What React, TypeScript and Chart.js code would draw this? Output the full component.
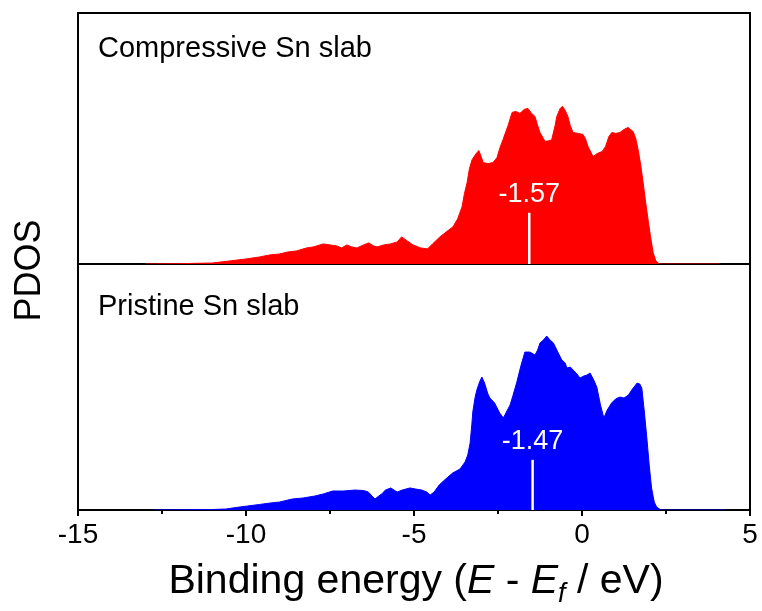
import { useEffect, useRef } from 'react';
import { Chart, registerables } from 'chart.js';

Chart.register(...registerables);

const FONT = "'Liberation Sans', Arial, Helvetica, sans-serif";

// Compressive Sn slab: energy (eV, relative to E_f) and PDOS (arb. units)
const compressiveEnergy = [
  -13.0, -12.0, -11.0, -10.5, -10.0, -9.6, -9.3, -9.0, -8.75, -8.5, -8.2, -8.0, -7.7, -7.5, -7.3, -7.15,
  -7.0, -6.85, -6.7, -6.5, -6.35, -6.2, -6.1, -5.9, -5.7, -5.5, -5.37, -5.2, -5.03, -4.8, -4.6, -4.45,
  -4.23, -4.0, -3.84, -3.7, -3.57, -3.5, -3.42, -3.35, -3.27, -3.15, -3.07, -2.98, -2.94, -2.8, -2.65, -2.53,
  -2.45, -2.35, -2.2, -2.08, -1.97, -1.85, -1.72, -1.61, -1.5, -1.4, -1.32, -1.25, -1.1, -0.95, -0.9, -0.8,
  -0.75, -0.65, -0.58, -0.5, -0.42, -0.35, -0.27, -0.1, 0.03, 0.1, 0.18, 0.33, 0.45, 0.6, 0.7, 0.8,
  0.89, 1.0, 1.13, 1.25, 1.37, 1.52, 1.6, 1.67, 1.75, 1.82, 1.9, 1.98, 2.05, 2.12, 2.2, 2.3, 4.1,
];
const compressivePdos = [
  0, 0.003, 0.01, 0.03, 0.05, 0.07, 0.09, 0.1, 0.12, 0.13, 0.16, 0.17, 0.2, 0.19, 0.18, 0.16,
  0.19, 0.17, 0.16, 0.19, 0.21, 0.18, 0.17, 0.19, 0.2, 0.22, 0.27, 0.23, 0.19, 0.16, 0.15, 0.2,
  0.27, 0.33, 0.37, 0.45, 0.57, 0.7, 0.81, 0.95, 1.04, 1.1, 1.13, 1.05, 1.01, 1.0, 1.01, 1.06,
  1.15, 1.24, 1.38, 1.51, 1.52, 1.5, 1.54, 1.55, 1.5, 1.47, 1.38, 1.31, 1.22, 1.23, 1.24, 1.38,
  1.47, 1.55, 1.57, 1.53, 1.47, 1.38, 1.31, 1.3, 1.29, 1.25, 1.17, 1.07, 1.1, 1.12, 1.17, 1.27,
  1.31, 1.3, 1.31, 1.34, 1.36, 1.32, 1.25, 1.14, 0.98, 0.81, 0.6, 0.41, 0.25, 0.11, 0.03, 0, 0,
];

// Pristine Sn slab
const pristineEnergy = [
  -12.75, -11.0, -10.6, -10.3, -9.95, -9.6, -9.28, -9.0, -8.62, -8.3, -7.95, -7.7, -7.42, -7.1, -6.75, -6.5,
  -6.36, -6.25, -6.16, -6.05, -5.96, -5.85, -5.69, -5.55, -5.49, -5.35, -5.12, -4.95, -4.77, -4.62, -4.52, -4.4,
  -4.25, -4.09, -3.85, -3.63, -3.48, -3.4, -3.33, -3.28, -3.25, -3.18, -3.13, -3.05, -2.98, -2.9, -2.8, -2.74,
  -2.6, -2.54, -2.45, -2.34, -2.25, -2.14, -2.05, -1.94, -1.82, -1.7, -1.55, -1.4, -1.32, -1.25, -1.15, -1.05,
  -0.95, -0.85, -0.72, -0.6, -0.5, -0.45, -0.35, -0.26, -0.15, -0.06, 0.05, 0.15, 0.24, 0.35, 0.44, 0.55,
  0.65, 0.75, 0.88, 1.0, 1.13, 1.25, 1.38, 1.5, 1.64, 1.72, 1.78, 1.85, 1.93, 2.0, 2.07, 2.15, 2.22, 2.35, 4.28,
];
const pristinePdos = [
  0, 0.005, 0.01, 0.025, 0.041, 0.056, 0.071, 0.081, 0.112, 0.122, 0.142, 0.163, 0.193, 0.193, 0.203, 0.198,
  0.183, 0.142, 0.112, 0.142, 0.163, 0.203, 0.224, 0.193, 0.183, 0.203, 0.224, 0.213, 0.203, 0.183, 0.152, 0.183,
  0.254, 0.305, 0.376, 0.417, 0.488, 0.559, 0.681, 0.864, 0.996, 1.148, 1.219, 1.3, 1.351, 1.29, 1.179, 1.138,
  1.087, 1.046, 0.986, 0.935, 0.996, 1.067, 1.168, 1.3, 1.463, 1.605, 1.605, 1.575, 1.626, 1.697, 1.727, 1.768,
  1.727, 1.697, 1.605, 1.524, 1.494, 1.443, 1.453, 1.422, 1.382, 1.341, 1.361, 1.372, 1.392, 1.321, 1.25, 1.067,
  0.935, 1.016, 1.087, 1.128, 1.148, 1.138, 1.168, 1.229, 1.29, 1.28, 1.24, 1.016, 0.732, 0.457, 0.224, 0.081, 0.03, 0, 0,
];

const panelLabels = ['Compressive Sn slab', 'Pristine Sn slab'];
const seriesColors = ['#ff0000', '#0000ff'];
// d-band centre of each slab (eV) and the height of its marker (PDOS units)
const dBandCenters = [-1.57, -1.47];
const markerHeight = 0.51;

const xTicks = [-15, -10, -5, 0, 5];
const xMinorTicks = [-12.5, -7.5, -2.5, 2.5];
const panelScaleIds = ['yTop', 'yBot'];

const toPoints = (xs: number[], ys: number[]) => xs.map((x, i) => ({ x, y: ys[i] }));

const decorPlugin = {
  id: 'pdosDecor',
  beforeDatasetsDraw(chart: any) {
    const { ctx, chartArea: a, scales } = chart;
    ctx.save();
    ctx.strokeStyle = '#000';
    ctx.lineWidth = 2;
    ctx.strokeRect(a.left, a.top, a.right - a.left, a.bottom - a.top);
    const yDiv = scales.yTop.bottom;
    ctx.beginPath();
    ctx.moveTo(a.left, yDiv);
    ctx.lineTo(a.right, yDiv);
    ctx.stroke();
    // tick marks below the energy axis
    const xs = scales.x;
    xTicks.forEach((v) => {
      const px = xs.getPixelForValue(v);
      ctx.beginPath();
      ctx.moveTo(px, a.bottom);
      ctx.lineTo(px, a.bottom + 6);
      ctx.stroke();
    });
    xMinorTicks.forEach((v) => {
      const px = xs.getPixelForValue(v);
      ctx.beginPath();
      ctx.moveTo(px, a.bottom);
      ctx.lineTo(px, a.bottom + 4);
      ctx.stroke();
    });
    ctx.restore();
  },
  afterDatasetsDraw(chart: any) {
    const { ctx, chartArea: a, scales } = chart;
    const xs = scales.x;
    ctx.save();
    const labelOffsets = [44, 51];
    panelScaleIds.forEach((id, i) => {
      const ys = scales[id];
      const px = xs.getPixelForValue(dBandCenters[i]);
      const y0 = ys.getPixelForValue(0);
      const y1 = ys.getPixelForValue(markerHeight);
      ctx.strokeStyle = '#ffffff';
      ctx.lineWidth = 2.5;
      ctx.beginPath();
      ctx.moveTo(px, y0);
      ctx.lineTo(px, y1);
      ctx.stroke();
      ctx.fillStyle = '#ffffff';
      ctx.font = `27px ${FONT}`;
      ctx.textAlign = 'center';
      ctx.textBaseline = 'alphabetic';
      ctx.fillText(dBandCenters[i].toFixed(2), px, y1 - 11);

      ctx.fillStyle = '#000000';
      ctx.font = `29px ${FONT}`;
      ctx.textAlign = 'left';
      ctx.fillText(panelLabels[i], a.left + 20, ys.top + labelOffsets[i]);
    });

    // vertical axis title
    ctx.save();
    ctx.translate(30, (a.top + a.bottom) / 2 + 9);
    ctx.rotate(-Math.PI / 2);
    ctx.fillStyle = '#000';
    ctx.font = `36px ${FONT}`;
    ctx.textAlign = 'center';
    ctx.textBaseline = 'middle';
    ctx.fillText('PDOS', 0, 0);
    ctx.restore();

    // horizontal axis title: Binding energy (E - E_f / eV)
    const size = 41;
    const parts = [
      { t: 'Binding energy (', f: `${size}px ${FONT}`, dy: 0 },
      { t: 'E', f: `italic ${size}px ${FONT}`, dy: 0 },
      { t: ' - ', f: `${size}px ${FONT}`, dy: 0 },
      { t: 'E', f: `italic ${size}px ${FONT}`, dy: 0 },
      { t: 'f', f: `italic ${Math.round(size * 0.66)}px ${FONT}`, dy: 9 },
      { t: ' / eV)', f: `${size}px ${FONT}`, dy: 0 },
    ];
    let total = 0;
    const widths = parts.map((p) => {
      ctx.font = p.f;
      const w = ctx.measureText(p.t).width;
      total += w;
      return w;
    });
    let cx = (a.left + a.right) / 2 + 2 - total / 2;
    const base = 593;
    ctx.fillStyle = '#000';
    ctx.textAlign = 'left';
    ctx.textBaseline = 'alphabetic';
    parts.forEach((p, i) => {
      ctx.font = p.f;
      ctx.fillText(p.t, cx, base + p.dy);
      cx += widths[i];
    });
    ctx.restore();
  },
};

export default function App() {
  const canvasRef = useRef<HTMLCanvasElement | null>(null);

  useEffect(() => {
    document.body.style.margin = '0';
    document.body.style.overflow = 'hidden';
    const canvas = canvasRef.current;
    if (!canvas) return;
    const chart = new Chart(canvas, {
      type: 'line',
      data: {
        datasets: [
          {
            label: panelLabels[0],
            data: toPoints(compressiveEnergy, compressivePdos),
            yAxisID: 'yTop',
            borderColor: seriesColors[0],
            backgroundColor: seriesColors[0],
            borderWidth: 1,
            pointRadius: 0,
            fill: 'origin',
            tension: 0,
          },
          {
            label: panelLabels[1],
            data: toPoints(pristineEnergy, pristinePdos),
            yAxisID: 'yBot',
            borderColor: seriesColors[1],
            backgroundColor: seriesColors[1],
            borderWidth: 1,
            pointRadius: 0,
            fill: 'origin',
            tension: 0,
          },
        ],
      },
      options: {
        responsive: false,
        animation: false,
        events: [],
        layout: { padding: { top: 13, left: 78, right: 12, bottom: 0 } },
        plugins: { legend: { display: false }, tooltip: { enabled: false } },
        scales: {
          x: {
            type: 'linear',
            min: -15,
            max: 5,
            afterBuildTicks: (s: any) => {
              s.ticks = xTicks.map((v) => ({ value: v }));
            },
            afterFit: (s: any) => {
              s.height = 101;
              s.paddingLeft = 0;
              s.paddingRight = 0;
            },
            grid: { display: false, drawTicks: false },
            border: { display: false },
            ticks: {
              color: '#000',
              padding: 8,
              maxRotation: 0,
              autoSkip: false,
              font: { family: FONT, size: 28 },
              callback: (v: any) => String(v),
            },
          },
          yTop: {
            type: 'linear',
            position: 'left',
            stack: 'pdos',
            stackWeight: 251,
            weight: 2,
            min: 0,
            max: 2.5,
            display: false,
          },
          yBot: {
            type: 'linear',
            position: 'left',
            stack: 'pdos',
            stackWeight: 246,
            weight: 1,
            min: 0,
            max: 2.5,
            display: false,
          },
        },
      },
      plugins: [decorPlugin],
    } as any);
    return () => chart.destroy();
  }, []);

  return (
    <div style={{ width: 762, height: 611 }}>
      <canvas ref={canvasRef} width={762} height={611} />
    </div>
  );
}
